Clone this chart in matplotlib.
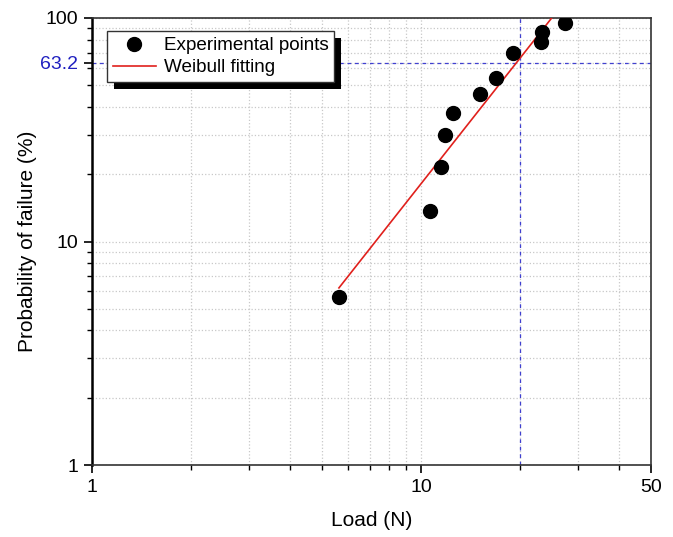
import matplotlib
matplotlib.use("Agg")
import matplotlib.pyplot as plt
from matplotlib.patches import Rectangle
from matplotlib.ticker import LogLocator, NullFormatter, FixedLocator

plt.rcParams['font.family'] = ['Liberation Sans', 'DejaVu Sans']

# experimental points (load in N, probability of failure in %)
load = [5.63, 10.65, 11.5, 11.8, 12.5, 15.1, 16.9, 19.0, 23.2, 23.3, 27.4]
prob = [5.65, 13.7, 21.5, 30.0, 37.6, 45.7, 53.9, 69.7, 78.1, 86.6, 95.0]

# Weibull fitting line end points
fit_load = [5.63, 28.0]
fit_prob = [6.2, 124.0]

char_load = 20.0
char_prob = 63.2

fig = plt.figure(figsize=(6.73, 5.37), dpi=100)
ax = fig.add_axes([92/673, 1 - 465/537, (651-92)/673, (465-18)/537])

ax.set_xscale('log')
ax.set_yscale('log')
ax.set_xlim(1, 50)
ax.set_ylim(1, 100)

ax.axhline(char_prob, color='#4040d0', ls=(0, (3, 3)), lw=0.9, zorder=2)
ax.axvline(char_load, color='#4040d0', ls=(0, (3, 3)), lw=0.9, zorder=2)

ax.plot(fit_load, fit_prob, color='#e0201c', lw=1.2, zorder=3, label='Weibull fitting')
ax.plot(load, prob, 'o', color='black', ms=10, zorder=4, ls='none', label='Experimental points')

ax.xaxis.set_major_locator(FixedLocator([1, 10, 50]))
ax.set_xticklabels(['1', '10', '50'])
ax.xaxis.set_minor_locator(LogLocator(base=10, subs=range(2, 10)))
ax.xaxis.set_minor_formatter(NullFormatter())
ax.yaxis.set_major_locator(FixedLocator([1, 10, char_prob, 100]))
ax.set_yticklabels(['1', '10', '63.2', '100'])
ax.get_yticklabels()[2].set_color('#2020c0')
ax.yaxis.set_minor_locator(LogLocator(base=10, subs=range(2, 10)))
ax.yaxis.set_minor_formatter(NullFormatter())

ax.grid(True, which='both', color='#c8c8c8', ls=':', lw=0.9, zorder=0)
ax.set_axisbelow(True)

ax.tick_params(which='major', length=6, width=1.2, labelsize=14, pad=4)
ax.tick_params(which='minor', length=3.5, width=1.0)
for s in ax.spines.values():
    s.set_linewidth(1.2)
    s.set_color('#333333')
ax.spines['left'].set_linewidth(1.8)
ax.spines['left'].set_color('black')

ax.set_xlabel('Load (N)', fontsize=15)
ax.set_ylabel('Probability of failure (%)', fontsize=15)
ax.xaxis.set_label_coords(0.5, -0.103)
ax.yaxis.set_label_coords(-0.099, 0.5)

handles, labels = ax.get_legend_handles_labels()
leg = ax.legend(handles[::-1], labels[::-1], loc='upper left',
                bbox_to_anchor=(0.027, 0.97), fontsize=13.6, frameon=True,
                fancybox=False, edgecolor='#333333', framealpha=1,
                borderpad=0.3, handlelength=2.3, handletextpad=0.4,
                labelspacing=0.25, borderaxespad=0)
leg.get_frame().set_linewidth(1.0)
leg.set_zorder(6)

fig.canvas.draw()
bb = leg.get_window_extent()
shadow = Rectangle((bb.x0 + 7, bb.y0 - 7), bb.width, bb.height, transform=None,
                   facecolor='black', edgecolor='none', zorder=5.5)
ax.add_artist(shadow)

fig.savefig('out.png', dpi=100)
